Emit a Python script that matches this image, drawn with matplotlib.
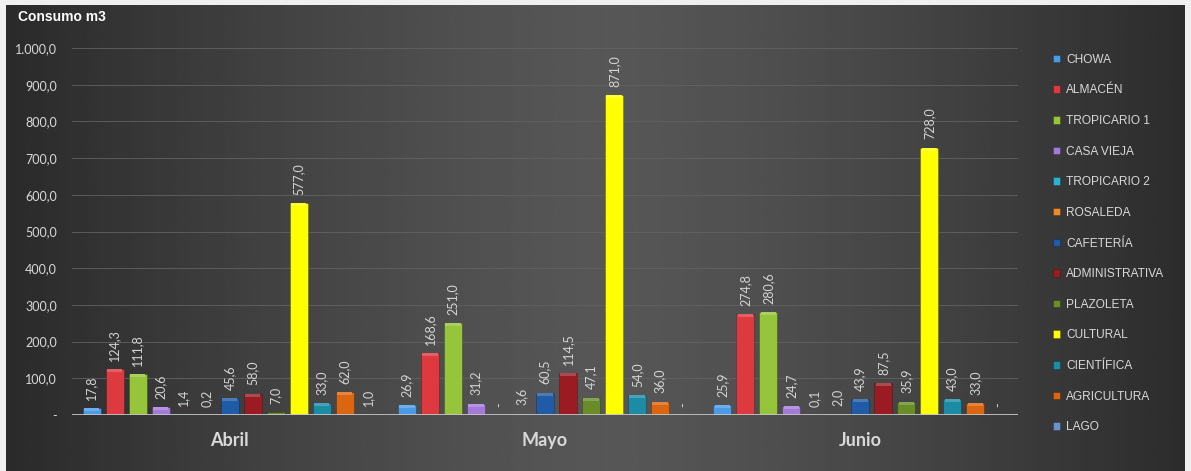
"""Consumo m3 por edificio, abril a junio."""

import matplotlib.colors as mcolors
import matplotlib.pyplot as plt
import numpy as np
from matplotlib.font_manager import fontManager

MONTHS = ["Abril", "Mayo", "Junio"]

SITES = [
    "CHOWA",
    "ALMACÉN",
    "TROPICARIO 1",
    "CASA VIEJA",
    "TROPICARIO 2",
    "ROSALEDA",
    "CAFETERÍA",
    "ADMINISTRATIVA",
    "PLAZOLETA",
    "CULTURAL",
    "CIENTÍFICA",
    "AGRICULTURA",
    "LAGO",
]

# one list per month, same order as SITES
ABRIL = [17.8, 124.3, 111.8, 20.6, 1.4, 0.2, 45.6, 58.0, 7.0, 577.0, 33.0, 62.0, 1.0]
MAYO = [26.9, 168.6, 251.0, 31.2, 0.0, 3.6, 60.5, 114.5, 47.1, 871.0, 54.0, 36.0, 0.0]
JUNIO = [25.9, 274.8, 280.6, 24.7, 0.1, 2.0, 43.9, 87.5, 35.9, 728.0, 43.0, 33.0, 0.0]

COLORS = [
    "#4a9be6",
    "#dc3a3e",
    "#96c43a",
    "#a37ad8",
    "#2bb3cf",
    "#ee8a25",
    "#1f5ba6",
    "#9a1c22",
    "#688c26",
    "#ffff00",
    "#1b8ba6",
    "#dc6510",
    "#6c92cc",
]

Y_TICKS = [0, 100, 200, 300, 400, 500, 600, 700, 800, 900, 1000]


def pick(*names):
    have = {f.name for f in fontManager.ttflist}
    return [n for n in names if n in have] + ["DejaVu Sans"]


NARROW = pick("Liberation Sans Narrow", "Liberation Sans")
BODY = pick("Lato", "Liberation Sans")


def es_fmt(v):
    if v == 0:
        return "-"
    s = f"{v:,.1f}"
    return s.replace(",", "X").replace(".", ",").replace("X", ".")


def lighter(c, k=0.2):
    r, g, b = mcolors.to_rgb(c)
    return (r + (1 - r) * k, g + (1 - g) * k, b + (1 - b) * k)


fig = plt.figure(figsize=(11.91, 4.71), dpi=100)
fig.patch.set_facecolor("#efefef")

# dark gradient background panel
bg = fig.add_axes([6 / 1191, 0, 1179 / 1191, 466 / 471])
xs = np.linspace(-1, 1, 400)
shade = 0.34 - 0.17 * np.abs(xs - 0.02) ** 1.3
grad = np.tile(shade, (10, 1))
bg.imshow(grad, cmap="gray", vmin=0, vmax=1, aspect="auto", extent=[0, 1, 0, 1])
bg.set_axis_off()

ax = fig.add_axes([72 / 1191, 56 / 471, 946 / 1191, 367 / 471])
ax.set_facecolor("none")

data = np.array([ABRIL, MAYO, JUNIO])
n = len(SITES)
slot = 23 / 315
width = 18 / 315
cap = 1000 * 3 / 367  # ~3 px bevel highlight at bar top
x = np.arange(len(MONTHS))

for i, (site, color) in enumerate(zip(SITES, COLORS)):
    pos = x + (i - (n - 1) / 2) * slot
    vals = data[:, i]
    ax.bar(pos, vals, width=width, color=color, edgecolor="#00000040",
           linewidth=0.6, label=site, zorder=3)
    tall = vals > cap * 2
    ax.bar(pos[tall], cap, bottom=vals[tall] - cap, width=width * 0.85,
           color=lighter(color), linewidth=0, zorder=3.5)
    for px, v in zip(pos, vals):
        ax.annotate(es_fmt(v), (px, v), xytext=(0, 6), textcoords="offset points",
                    rotation=90, ha="center", va="bottom", fontsize=9,
                    color="#d4d4d4", family=BODY, zorder=4)

ax.set_xlim(-0.5, 2.5)
ax.set_ylim(0, 1000)
ax.set_yticks(Y_TICKS)
ax.set_yticklabels([es_fmt(v) for v in Y_TICKS], family=BODY, fontsize=9,
                   color="#d9d9d9")
ax.set_xticks(x)
ax.set_xticklabels(MONTHS, family=BODY, fontsize=13, fontweight="bold",
                   color="#d9d9d9")
ax.tick_params(axis="both", length=0)
ax.tick_params(axis="x", pad=12)
ax.tick_params(axis="y", pad=11)
ax.grid(axis="y", color="#626262", linewidth=0.6, zorder=0)
for s in ax.spines.values():
    s.set_visible(False)
ax.axhline(0, color="#c4c4c4", linewidth=2, zorder=5)

fig.text(18 / 1191, 1 - 17 / 471, "Consumo m3", family=NARROW, fontsize=10,
         fontweight="bold", color="white", va="center", ha="left")

leg = fig.legend(
    loc="upper left",
    bbox_to_anchor=(1042 / 1191, 1 - 43 / 471),
    frameon=False,
    handlelength=0.6,
    handleheight=0.6,
    handletextpad=0.5,
    labelspacing=1.56,
    prop={"family": NARROW, "size": 8.6},
)
for t in leg.get_texts():
    t.set_color("#d9d9d9")

fig.savefig("out.png", dpi=100, facecolor=fig.get_facecolor())
